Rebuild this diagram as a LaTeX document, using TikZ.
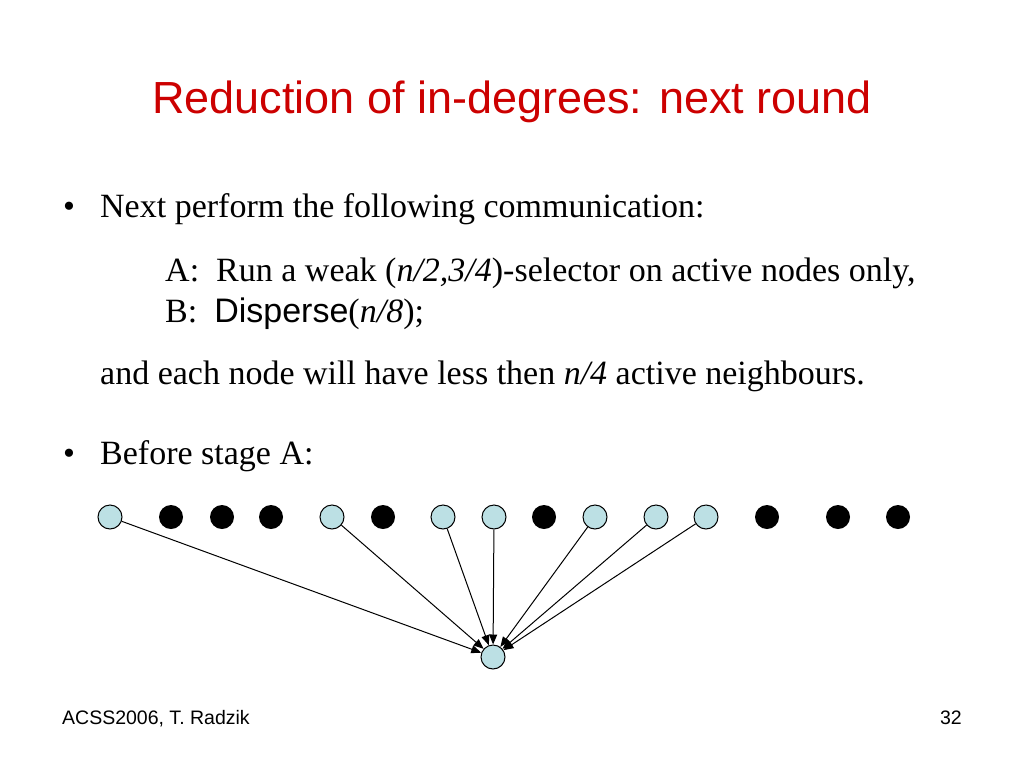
\documentclass[tikz,border=0pt]{standalone}
\usepackage{fontspec}
\setmainfont{Liberation Serif}
\setsansfont{Liberation Sans}
\usetikzlibrary{arrows.meta,positioning}
\definecolor{titlered}{RGB}{204,0,0}
\definecolor{nodeblue}{RGB}{188,224,228}

\begin{document}
\begin{tikzpicture}[x=1pt,y=-1pt,
        TitleCfg/.style={anchor=base,inner sep=0pt,text=titlered,font=\sffamily\fontsize{45}{54}\selectfont},
        TextCfg/.style={anchor=base west,inner sep=0pt,font=\fontsize{34}{40}\selectfont},
        FootCfg/.style={inner sep=0pt,font=\sffamily\fontsize{19.5}{23}\selectfont},
        ActiveCfg/.style={circle,draw,fill=nodeblue,minimum size=24pt,inner sep=0pt,line width=1pt},
        PassiveCfg/.style={circle,fill=black,minimum size=24pt,inner sep=0pt},
        ArrowCfg/.style={-{Triangle[length=10pt,width=8pt]},line width=1pt}
    ]
    \useasboundingbox (0,0) rectangle (1024,768);

    %title
    \node[TitleCfg] (title) at (512,113) {Reduction of in-degrees: next round};

    %text
    \node[TextCfg] (dot1) at (63,217) {•};
    \node[TextCfg] (next) at (100,217) {Next perform the following communication:};
    \node[TextCfg] (stepA) at (165,281) {A:\ \ Run a weak (\textit{n/2,3/4})-selector on active nodes only,};
    \node[TextCfg] (stepB) at (165,322) {B:\ \ {\sffamily Disperse}(\textit{n/8});};
    \node[TextCfg] (result) at (100,384) {and each node will have less then \textit{n/4} active neighbours.};
    \node[TextCfg] (dot2) at (63,464) {•};
    \node[TextCfg] (before) at (100,464) {Before stage A:};

    %nodes
    \foreach \x [count=\i] in {110,332,443,494,595,656,706}
        \node[ActiveCfg] (a\i) at (\x,517) {};
    \foreach \x [count=\i] in {171,222,271,383,544,767,838,898}
        \node[PassiveCfg] (p\i) at (\x,517) {};
    \node[ActiveCfg] (sink) at (493,657) {};

    %connections
    \foreach \i in {1,...,7}
        \draw[ArrowCfg] (a\i)--(sink);

    %footer
    \node[FootCfg,anchor=base west] (foot) at (62,724) {ACSS2006, T. Radzik};
    \node[FootCfg,anchor=base east] (page) at (962,724) {32};

\end{tikzpicture}
\end{document}
